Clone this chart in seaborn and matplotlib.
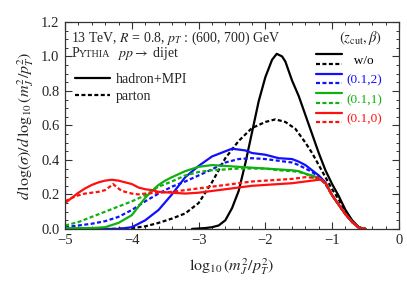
import numpy as np
import pandas as pd
import matplotlib
matplotlib.use("Agg")
import matplotlib.pyplot as plt
import seaborn as sns
from matplotlib.lines import Line2D
from matplotlib.legend_handler import HandlerBase
from matplotlib.ticker import MultipleLocator, FuncFormatter, FormatStrFormatter

# --- curves: log10(m^2/pT^2) vs d log(sigma)/d log10(...)
tail_x = [-1.0, -0.9, -0.8, -0.7, -0.6, -0.5]
tail_y = [0.195, 0.14, 0.085, 0.04, 0.007, 0.0]

wo_had_x = [-3.1, -2.9, -2.8, -2.7, -2.6, -2.5, -2.4, -2.3, -2.2, -2.1, -2.0, -1.9, -1.83, -1.75,
            -1.7, -1.6, -1.5, -1.4, -1.3, -1.2, -1.1, -1.0, -0.9, -0.8, -0.7, -0.6, -0.5]
wo_had_y = [0.0, 0.005, 0.01, 0.02, 0.05, 0.12, 0.22, 0.38, 0.56, 0.74, 0.88, 0.98, 1.015, 1.0,
            0.97, 0.86, 0.77, 0.66, 0.55, 0.44, 0.34, 0.26, 0.19, 0.11, 0.05, 0.01, 0.0]

wo_par_x = [-4.3, -4.0, -3.8, -3.6, -3.4, -3.2, -3.0, -2.8, -2.6, -2.4, -2.2, -2.0, -1.85, -1.7,
            -1.55, -1.4, -1.3, -1.2, -1.1, -1.0, -0.9, -0.8, -0.7, -0.6, -0.5]
wo_par_y = [0.0, 0.005, 0.015, 0.035, 0.06, 0.09, 0.15, 0.27, 0.41, 0.51, 0.585, 0.62, 0.635, 0.62,
            0.58, 0.50, 0.44, 0.37, 0.30, 0.23, 0.17, 0.10, 0.04, 0.01, 0.0]

b2_had_x = [-5.0, -4.2, -4.0, -3.8, -3.6, -3.4, -3.2, -3.0, -2.8, -2.6, -2.5, -2.4, -2.3, -2.2,
            -2.0, -1.8, -1.6, -1.5, -1.4, -1.3, -1.2, -1.1] + tail_x
b2_had_y = [0.0, 0.0, 0.01, 0.05, 0.11, 0.20, 0.30, 0.365, 0.42, 0.45, 0.465, 0.46, 0.455, 0.44,
            0.43, 0.41, 0.405, 0.39, 0.37, 0.34, 0.31, 0.27] + tail_y

b2_par_x = [-5.0, -4.8, -4.6, -4.4, -4.2, -4.0, -3.8, -3.6, -3.4, -3.2, -3.0, -2.8, -2.6, -2.4,
            -2.2, -2.0, -1.8, -1.6, -1.5, -1.4, -1.3, -1.2, -1.1] + tail_x
b2_par_y = [0.01, 0.02, 0.03, 0.045, 0.07, 0.11, 0.16, 0.205, 0.245, 0.275, 0.31, 0.345, 0.385, 0.405,
            0.41, 0.405, 0.395, 0.385, 0.37, 0.35, 0.33, 0.30, 0.26] + tail_y

b1_had_x = [-5.0, -4.6, -4.4, -4.2, -4.0, -3.9, -3.8, -3.7, -3.6, -3.5, -3.4, -3.2, -3.0, -2.8,
            -2.6, -2.4, -2.2, -2.0, -1.8, -1.6, -1.5, -1.4, -1.3, -1.2, -1.1] + tail_x
b1_had_y = [0.005, 0.005, 0.01, 0.035, 0.08, 0.13, 0.18, 0.22, 0.255, 0.28, 0.30, 0.335, 0.36, 0.37,
            0.365, 0.36, 0.355, 0.35, 0.345, 0.34, 0.335, 0.32, 0.31, 0.295, 0.265] + tail_y

b1_par_x = [-5.0, -4.8, -4.6, -4.4, -4.2, -4.0, -3.8, -3.6, -3.4, -3.2, -3.0, -2.8, -2.6, -2.4,
            -2.2, -2.0, -1.8, -1.6, -1.5, -1.4, -1.3, -1.2, -1.1] + tail_x
b1_par_y = [0.02, 0.04, 0.07, 0.10, 0.13, 0.16, 0.195, 0.245, 0.275, 0.31, 0.33, 0.34, 0.345, 0.35,
            0.35, 0.35, 0.34, 0.335, 0.33, 0.32, 0.30, 0.29, 0.265] + tail_y

b0_had_x = [-5.0, -4.9, -4.8, -4.7, -4.6, -4.5, -4.4, -4.3, -4.2, -4.1, -4.0, -3.9, -3.8, -3.7,
            -3.6, -3.4, -3.2, -3.0, -2.8, -2.6, -2.4, -2.2, -2.0, -1.8, -1.6, -1.4, -1.2, -1.15,
            -1.1] + tail_x
b0_had_y = [0.15, 0.18, 0.21, 0.235, 0.255, 0.27, 0.28, 0.285, 0.28, 0.27, 0.26, 0.24, 0.23, 0.225,
            0.215, 0.21, 0.205, 0.21, 0.22, 0.23, 0.24, 0.25, 0.255, 0.26, 0.265, 0.275, 0.285, 0.285,
            0.265] + tail_y

b0_par_x = [-5.0, -4.9, -4.8, -4.7, -4.6, -4.5, -4.4, -4.33, -4.28, -4.22, -4.15, -4.0, -3.9, -3.8,
            -3.6, -3.4, -3.2, -3.0, -2.8, -2.6, -2.4, -2.2, -2.0, -1.8, -1.6, -1.4, -1.2, -1.1] + tail_x
b0_par_y = [0.16, 0.18, 0.195, 0.205, 0.21, 0.215, 0.225, 0.245, 0.26, 0.24, 0.22, 0.205, 0.20, 0.205,
            0.21, 0.215, 0.225, 0.235, 0.245, 0.255, 0.265, 0.275, 0.28, 0.285, 0.29, 0.30, 0.295,
            0.265] + tail_y

groups = ["w/o", "(0.1,2)", "(0.1,1)", "(0.1,0)"]
colors = ["black", "#1010ff", "#10b010", "#ff1010"]
hadron = [(wo_had_x, wo_had_y), (b2_had_x, b2_had_y), (b1_had_x, b1_had_y), (b0_had_x, b0_had_y)]
parton = [(wo_par_x, wo_par_y), (b2_par_x, b2_par_y), (b1_par_x, b1_par_y), (b0_par_x, b0_par_y)]

sns.set_style("ticks")
plt.rcParams["font.family"] = ["Liberation Serif", "DejaVu Serif"]
plt.rcParams["mathtext.fontset"] = "stix"

LW = 1.6
DASH = (0, (1.8, 1.1))

fig = plt.figure(figsize=(4.07, 2.92), dpi=100)
ax = fig.add_axes([0.16, 0.216, 0.82, 0.709])

for (hx, hy), (px, py), c in zip(hadron, parton, colors):
    sns.lineplot(x=px, y=py, ax=ax, color=c, lw=LW, linestyle=DASH)
    sns.lineplot(x=hx, y=hy, ax=ax, color=c, lw=LW)

ax.set_xlim(-5, 0)
ax.set_ylim(0, 1.2)
ax.xaxis.set_major_locator(MultipleLocator(1))
ax.xaxis.set_minor_locator(MultipleLocator(0.2))
ax.yaxis.set_major_locator(MultipleLocator(0.2))
ax.yaxis.set_minor_locator(MultipleLocator(0.05))
ax.tick_params(which="both", direction="in", top=True, right=True, color="#333333")
ax.tick_params(which="major", length=5, width=0.8, labelsize=10.5, pad=4)
ax.tick_params(which="minor", length=2.5, width=0.7)
ax.xaxis.set_major_formatter(FuncFormatter(
    lambda v, p: ("\u2212%d" % abs(round(v))) if v < -0.01 else "0"))
ax.yaxis.set_major_formatter(FormatStrFormatter("%.1f"))
for s in ax.spines.values():
    s.set_linewidth(0.9)
    s.set_color("#333333")

ax.set_xlabel(r"$\log_{10}(m_J^2/p_T^2)$", fontsize=11.5, labelpad=6)
ax.set_ylabel(r"$d\,\log(\sigma)/d\,\log_{10}(m_J^2/p_T^2)$", fontsize=11.5, labelpad=4)

# annotations
ax.text(0.018, 0.905, r"13 TeV, $R$ = 0.8, $p_T$ : (600, 700) GeV", transform=ax.transAxes,
        fontsize=10, va="baseline")
t1 = ax.text(0.018, 0.83, "P", transform=ax.transAxes, fontsize=10, va="baseline")
fig.canvas.draw()
bb = t1.get_window_extent().transformed(ax.transAxes.inverted())
t2 = ax.text(bb.x1, 0.83, "YTHIA", transform=ax.transAxes, fontsize=7.3, va="baseline")
fig.canvas.draw()
bb2 = t2.get_window_extent().transformed(ax.transAxes.inverted())
ax.text(bb2.x1 + 0.02, 0.83, r"$pp \rightarrow$ dijet", transform=ax.transAxes,
        fontsize=10, va="baseline")

style_handles = [Line2D([], [], color="black", lw=LW),
                 Line2D([], [], color="black", lw=LW, linestyle=DASH)]
leg1 = ax.legend(style_handles, ["hadron+MPI", "parton"], loc="upper left",
                 bbox_to_anchor=(0.0, 0.80), frameon=False, fontsize=10,
                 handlelength=2.5, handletextpad=0.45, labelspacing=0.3, borderaxespad=0.3)
ax.add_artist(leg1)


class StackHandler(HandlerBase):
    def create_artists(self, legend, orig_handle, xdescent, ydescent, width, height,
                       fontsize, trans):
        solid, dashed = orig_handle
        out = []
        for h, frac in ((solid, 0.95), (dashed, 0.1)):
            ln = Line2D([-xdescent, -xdescent + width], [-ydescent + height * frac] * 2)
            ln.update_from(h)
            ln.set_transform(trans)
            out.append(ln)
        return out


pair_handles = [(Line2D([], [], color=c, lw=LW), Line2D([], [], color=c, lw=LW, linestyle=DASH))
                for c in colors]
labels = ["  " + groups[0]] + groups[1:]
leg2 = ax.legend(pair_handles, labels, handler_map={tuple: StackHandler()},
                 loc="upper right", bbox_to_anchor=(0.979, 1.01), frameon=False, fontsize=9.5,
                 title=r"$(z_{\rm cut},\beta)$", title_fontsize=10.5,
                 handlelength=2.0, handleheight=0.9, handletextpad=0.35,
                 labelspacing=0.5, borderaxespad=0.3)
for txt, c in zip(leg2.get_texts(), colors):
    txt.set_color(c)
leg2._legend_box.align = "right"

fig.savefig("out.png", dpi=100)
